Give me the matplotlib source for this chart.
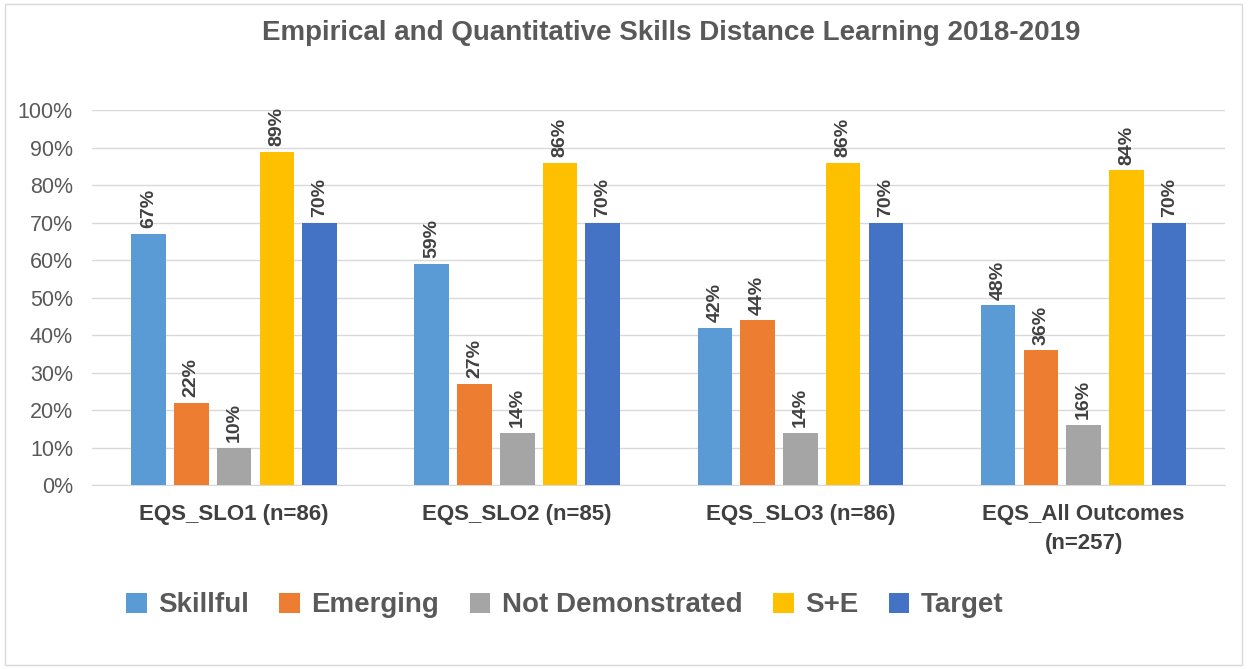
import numpy as np
import matplotlib
matplotlib.use('Agg')
import matplotlib.pyplot as plt
from matplotlib.patches import Rectangle

TITLE = 'Empirical and Quantitative Skills Distance Learning 2018-2019'
CATEGORIES = ['EQS_SLO1 (n=86)', 'EQS_SLO2 (n=85)', 'EQS_SLO3 (n=86)',
              'EQS_All Outcomes\n(n=257)']
SERIES = ['Skillful', 'Emerging', 'Not Demonstrated', 'S+E', 'Target']
SKILLFUL = [67, 59, 42, 48]
EMERGING = [22, 27, 44, 36]
NOT_DEMO = [10, 14, 14, 16]
S_PLUS_E = [89, 86, 86, 84]
TARGET = [70, 70, 70, 70]
COLORS = ['#5B9BD5', '#ED7D31', '#A5A5A5', '#FFC000', '#4472C4']

TEXT = '#404040'
plt.rcParams['font.family'] = ['Liberation Sans', 'DejaVu Sans']

fig = plt.figure(figsize=(12.49, 6.69), dpi=100)
ax = fig.add_axes([0.074, 0.275, 0.907, 0.56])

values = [SKILLFUL, EMERGING, NOT_DEMO, S_PLUS_E, TARGET]
x = np.arange(len(CATEGORIES))
pitch = 0.151
width = 0.122
for i, (name, vals, col) in enumerate(zip(SERIES, values, COLORS)):
    pos = x + (i - 2) * pitch
    v = np.array(vals) / 100.0
    ax.bar(pos, v, width=width, color=col, label=name, zorder=3)
    for px, pv in zip(pos, v):
        ax.text(px, pv + 0.015, f'{round(pv * 100)}%', rotation=90,
                ha='center', va='bottom', fontsize=14, fontweight='bold',
                color=TEXT)

ax.set_xlim(-0.5, 3.5)
ax.set_ylim(0, 1.0)
ax.set_yticks(np.arange(0, 1.01, 0.1))
ax.set_yticklabels([f'{int(round(t * 100))}%' for t in np.arange(0, 1.01, 0.1)],
                   fontsize=15.5, color='#595959')
ax.set_xticks(x)
ax.set_xticklabels(CATEGORIES, fontsize=16, fontweight='bold', color=TEXT,
                   linespacing=1.5)
ax.tick_params(axis='y', length=0, pad=14)
ax.tick_params(axis='x', length=0, pad=14)
ax.grid(axis='y', color='#D9D9D9', linewidth=1, zorder=0)
for s in ['top', 'right', 'left']:
    ax.spines[s].set_visible(False)
ax.spines['bottom'].set_color('#D9D9D9')

fig.text(0.537, 0.95, TITLE, ha='center', va='center', fontsize=20,
         fontweight='bold', color='#595959')

fig.legend(loc='center', bbox_to_anchor=(0.452, 0.095), ncol=5, frameon=False,
           handlelength=0.75, handleheight=0.75,
           handletextpad=0.4, columnspacing=1.1,
           prop={'size': 20, 'weight': 'bold'})
for t in fig.legends[0].get_texts():
    t.set_color('#595959')

fig.patches.append(Rectangle((0.004, 0.006), 0.99, 0.988, transform=fig.transFigure,
                             fill=False, edgecolor='#D9D9D9', linewidth=1))

fig.savefig('out.png', dpi=100, facecolor='white')
